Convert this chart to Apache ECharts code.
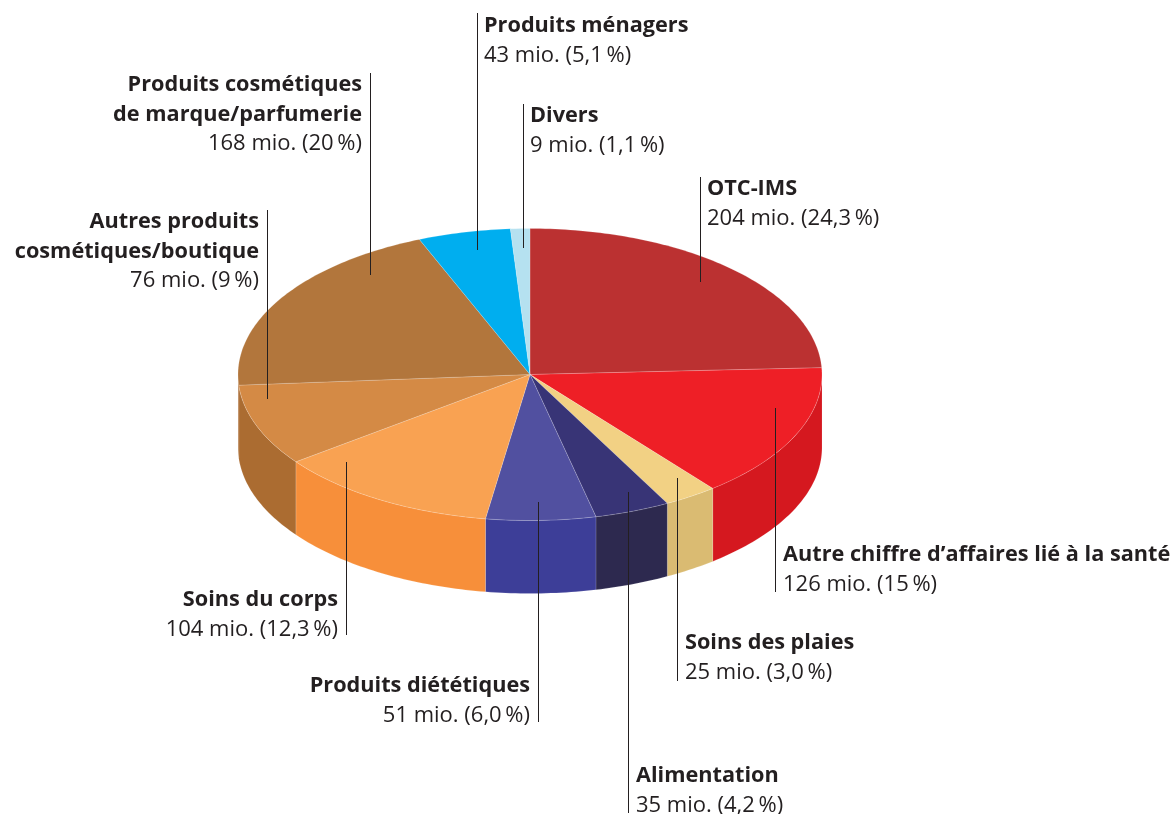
<!DOCTYPE html>
<html><head><meta charset="utf-8">
<style>html,body{margin:0;padding:0;background:#fff}#c{width:1173px;height:814px}</style>
<script src="https://cdn.jsdelivr.net/npm/echarts@6/dist/echarts.min.js"></script>
</head><body><div id="c"></div>
<script>
var titles = [
  ['OTC-IMS'],
  ['Autre chiffre d’affaires lié à la santé'],
  ['Soins des plaies'],
  ['Alimentation'],
  ['Produits diététiques'],
  ['Soins du corps'],
  ['Autres produits','cosmétiques/boutique'],
  ['Produits cosmétiques','de marque/parfumerie'],
  ['Produits ménagers'],
  ['Divers']
];
var values = [204,126,25,35,51,104,76,168,43,9];
var shares = ['24,3','15','3,0','4,2','6,0','12,3','9','20','5,1','1,1'];

var topColors = ['#BB3131','#EE1F26','#F2D184','#383476','#5150A0','#F9A252','#D48A45','#B2763C','#00AEEF','#B5E1F0'];
var sideColors = ['#D5181F','#D5181F','#DABB72','#2D294F','#3D3E98','#F78F3A','#AB6C31','#AB6C31','#00AEEF','#B5E1F0'];
// leader x, leader top, leader bottom, text side, text x, first line centre y
var labelLayout = [
  [700,177,282,'left',707,189],
  [775,408,592,'left',783,555],
  [677,478,681,'left',685,643],
  [628,492,813,'left',636,776],
  [538,502,722,'right',530,686],
  [346,462,635,'right',338,600],
  [267,210,399,'right',259,222],
  [370,73,275,'right',362,85],
  [477,13,250,'left',484,26],
  [523,104,248,'left',530,116]
];
var CX=530, CY=374.5, RX=292, RY=146, DEPTH=73, LINE=29.6;
var BOLD_FONT='bold 21.7px "Open Sans", sans-serif', REG_FONT='22px "Open Sans", sans-serif';
var total = values.reduce(function(a,b){return a+b;},0);
var cum=[0]; values.forEach(function(v,i){cum.push(cum[i]+v);});
function pt(deg,dy){var r=deg*Math.PI/180;return [CX+RX*Math.sin(r),CY-RY*Math.cos(r)+(dy||0)];}
function arc(a,b,dy){var out=[],n=Math.max(2,Math.ceil(Math.abs(b-a)));for(var k=0;k<=n;k++)out.push(pt(a+(b-a)*k/n,dy));return out;}
function angles(i){return [cum[i]/total*360,cum[i+1]/total*360];}

function renderSide(params){
  var i=params.dataIndex,a=angles(i),s=Math.max(a[0],90),e=Math.min(a[1],270);
  if(e<=s) return {type:'group',children:[]};
  var top=arc(s,e,0),bot=arc(s,e,DEPTH).reverse();
  return {type:'polygon',shape:{points:top.concat(bot)},
    style:{fill:sideColors[i],stroke:'rgba(255,255,255,0.22)',lineWidth:0.6}};
}
function renderTop(params){
  var i=params.dataIndex,a=angles(i);
  return {type:'polygon',shape:{points:[[CX,CY]].concat(arc(a[0],a[1],0))},
    style:{fill:topColors[i],stroke:'rgba(255,255,255,0.3)',lineWidth:0.6}};
}
function renderLabel(params){
  var i=params.dataIndex,L=labelLayout[i],t=titles[i],kids=[];
  kids.push({type:'line',shape:{x1:L[0]+0.5,y1:L[1],x2:L[0]+0.5,y2:L[2]},style:{stroke:'#231F20',lineWidth:1}});
  t.forEach(function(line,k){
    kids.push({type:'text',style:{text:line,x:L[4],y:L[5]+k*LINE,align:L[3],verticalAlign:'middle',
      font:BOLD_FONT,fill:'#231F20'}});
  });
  kids.push({type:'text',style:{text:values[i]+' mio. ('+shares[i]+'\u2009%)',x:L[4],y:L[5]+t.length*LINE,align:L[3],verticalAlign:'middle',
    font:REG_FONT,fill:'#231F20'}});
  return {type:'group',children:kids};
}
var chart=echarts.init(document.getElementById('c'),null,{renderer:'canvas'});
chart.setOption({
  animation:false,
  backgroundColor:'#fff',
  series:[
    {type:'custom',coordinateSystem:'none',data:values,renderItem:renderSide,z:1,silent:true},
    {type:'custom',coordinateSystem:'none',data:values,renderItem:renderTop,z:2,silent:true},
    {type:'custom',coordinateSystem:'none',data:values,renderItem:renderLabel,z:3,silent:true}
  ]
});
</script></body></html>
